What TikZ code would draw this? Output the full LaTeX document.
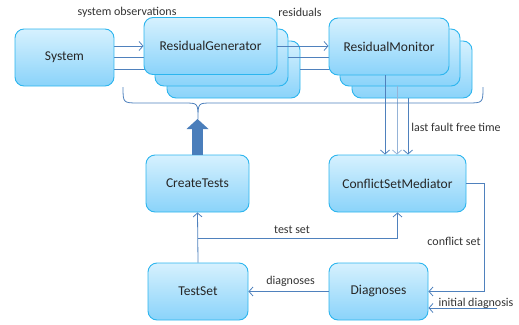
\documentclass[tikz,border=0pt]{standalone}
\usepackage{fontspec}
\setmainfont{Carlito}
\usetikzlibrary{arrows.meta}
\definecolor{boxline}{HTML}{2CB5EE}
\definecolor{boxtop}{HTML}{D6F1FE}
\definecolor{boxbot}{HTML}{8AD3FA}
\definecolor{wire}{HTML}{4F81BD}
\definecolor{wirelight}{HTML}{95B3D7}
\definecolor{bigfill}{HTML}{4A7EBB}
\pgfdeclarelayer{lines}
\pgfdeclarelayer{back}
\pgfdeclarelayer{wires}
\pgfsetlayers{lines,back,wires,main}

\begin{document}
\begin{tikzpicture}[x=1pt,y=-1pt,
  box/.style={draw=boxline, line width=0.9pt, rounded corners=9pt, top color=boxtop, bottom color=boxbot,
    minimum height=57pt, inner sep=0pt, font=\fontsize{13.5}{16}\selectfont, text=black!85},
  wire/.style={draw=wire, line width=0.8pt},
  arr/.style={wire, -{Straight Barb[length=4pt,width=9pt]}},
  bigarr/.style={draw=bigfill, line width=11pt, -{Triangle[length=10pt,width=22pt,line width=0pt]}},
  lbl/.style={font=\fontsize{12}{14}\selectfont, text=black!80, inner sep=1pt}]

\useasboundingbox (0,0) rectangle (519,324);

\node[box, minimum width=99pt] (sys) at (64.5,57.5) {System};

\begin{pgfonlayer}{back}
\node[box, minimum width=133pt] (rg3) at (233.5,69.5) {};
\node[box, minimum width=133pt] (rg2) at (221.5,57.5) {};
\node[box, minimum width=133pt] (rg) at (210.5,46) {ResidualGenerator};
\end{pgfonlayer}

\node[box, minimum width=120pt] (rm3) at (412,69.5) {};
\node[box, minimum width=120pt] (rm2) at (400,57.5) {};
\node[box, minimum width=120pt] (rm) at (389,46.5) {ResidualMonitor};

\node[box, minimum width=103pt] (ct) at (197.5,183.5) {CreateTests};
\node[box, minimum width=137pt] (csm) at (397.5,183.5) {ConflictSetMediator};
\node[box, minimum width=100pt] (ts) at (198,291.5) {TestSet};
\node[box, minimum width=99pt] (diag) at (378.5,291.5) {Diagnoses};

\coordinate (tip) at (198,119);
\coordinate (turn) at (484,0);
\coordinate (split) at (0,238);
\coordinate (init) at (497,308);

\begin{pgfonlayer}{lines}
\draw[arr] (sys.east |- rg.west) -- (rg.west);
\draw[wire] (sys.east) -- (rg2.west);
\draw[wire] (sys.east |- rg3.west) -- (rg3.west);
\end{pgfonlayer}

\begin{pgfonlayer}{wires}
\draw[arr] (rg.east) -- (rg.east -| rm.west);
\draw[wire] (rg2.east) -- (rg2.east -| rm2.west);
\draw[wire] (rg3.east) -- (rg3.east -| rm3.west);
\end{pgfonlayer}

\draw[arr] ([xshift=-4pt]rm.south) -- ([xshift=-4pt]rm.south |- csm.north);
\draw[arr, draw=wirelight] ([xshift=-3pt]rm2.south) -- ([xshift=-3pt]rm2.south |- csm.north);
\draw[arr] ([xshift=-4pt]rm3.south) -- ([xshift=-4pt]rm3.south |- csm.north);

\draw[wire] (123,87) .. controls (123,103) .. (139,103) -- (184,103)
  .. controls (tip |- 0,103) .. (tip) .. controls (tip |- 0,103) .. (212,103)
  -- (467,103) .. controls (483,103) .. (483,87);
\draw[bigarr] (ct.north) -- (ct.north |- tip);

\draw[arr] (ts.north) -- (ct.south);
\draw[arr] (ts.north |- split) -| (csm.south);
\draw[arr] (csm.east) -| (turn |- diag.east) -- (diag.east);
\draw[arr] (diag.west) -- (ts.east);
\draw[arr] (init) -- (diag.east |- init);

\node[lbl] (obs) at (127,12) {system observations};
\node[lbl] (res) at (300,12) {residuals};
\node[lbl] (lfft) at (456,127) {last fault free time};
\node[lbl] (tsl) at (292,230) {test set};
\node[lbl] (csl) at (454,241) {conflict set};
\node[lbl] (dgl) at (290.5,281) {diagnoses};
\node[lbl] (idl) at (476,303) {initial diagnosis};
\end{tikzpicture}
\end{document}
